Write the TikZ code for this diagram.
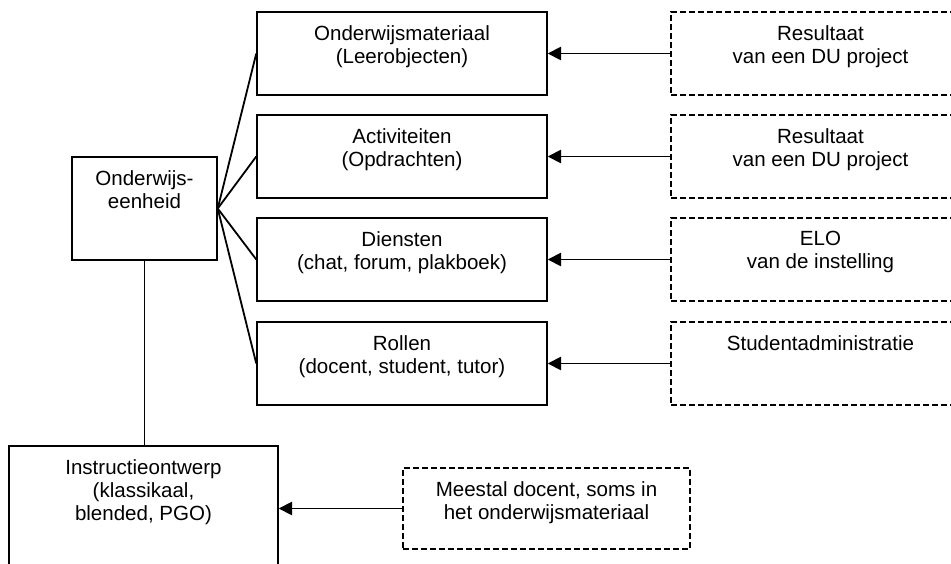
\documentclass[tikz,border=0pt]{standalone}
\usepackage{fontspec}
\setmainfont{Liberation Sans}
\usetikzlibrary{arrows.meta}
\begin{document}
\begin{tikzpicture}[x=0.75pt,y=-0.75pt,
  line width=1.1pt,
  sizebox/.style 2 args={rectangle, draw, inner sep=0pt,
    minimum width={#1*0.75pt}, minimum height={#2*0.75pt}},
  dashbox/.style 2 args={sizebox={#1}{#2}, dash pattern=on 4.5pt off 2.25pt},
  txt/.style={font=\fontsize{15.4}{17.25}\selectfont, align=center,
    inner sep=0pt, anchor=north},
  link/.style={draw, line width=1.35pt},
  feed/.style={draw, line width=1.35pt, -{Triangle[length=10pt,width=10pt]}}]

\useasboundingbox (0,0) rectangle (951,564);
\clip (0,0) rectangle (951,564);

% main unit
\node[sizebox={145}{103}] (oe) at (144.5,208.5) {};
\node[txt] (oe-t) at ([yshift=-10.1pt]oe.north) {Onderwijs-\\eenheid};

% components
\node[sizebox={290}{83}] (b1) at (402,53.5) {};
\node[sizebox={290}{83}] (b2) at (402,156.5) {};
\node[sizebox={290}{83}] (b3) at (402,259.5) {};
\node[sizebox={290}{83}] (b4) at (402,363.5) {};
\node[txt] (b1-t) at ([yshift=-10.1pt]b1.north) {Onderwijsmateriaal\\(Leerobjecten)};
\node[txt] (b2-t) at ([yshift=-10.1pt]b2.north) {Activiteiten\\(Opdrachten)};
\node[txt] (b3-t) at ([yshift=-10.1pt]b3.north) {Diensten\\(chat, forum, plakboek)};
\node[txt] (b4-t) at ([yshift=-10.1pt]b4.north) {Rollen\\(docent, student, tutor)};

% sources
\node[dashbox={299}{83}] (d1) at (820.5,53.5) {};
\node[dashbox={299}{83}] (d2) at (820.5,156.5) {};
\node[dashbox={299}{83}] (d3) at (820.5,259.5) {};
\node[dashbox={299}{83}] (d4) at (820.5,363.5) {};
\node[txt] (d1-t) at ([yshift=-10.1pt]d1.north) {Resultaat\\van een DU project};
\node[txt] (d2-t) at ([yshift=-10.1pt]d2.north) {Resultaat\\van een DU project};
\node[txt] (d3-t) at ([yshift=-10.1pt]d3.north) {ELO\\van de instelling};
\node[txt] (d4-t) at ([yshift=-10.1pt]d4.north) {Studentadministratie};

% instructional design
\node[sizebox={269}{174}] (ins) at (143.5,533) {};
\node[txt] (ins-t) at ([yshift=-10.1pt]ins.north) {Instructieontwerp\\(klassikaal,\\blended, PGO)};
\node[dashbox={287}{81}] (me) at (546.5,508.5) {};
\node[txt] (me-t) at ([yshift=-10.1pt]me.north) {Meestal docent, soms in\\het onderwijsmateriaal};

% connectors
\foreach \b in {b1,b2,b3,b4}
  \path[link] (oe.east) -- (\b.west);
\path[link] (oe.south) -- (oe.south |- ins.north);
\foreach \i in {1,2,3,4}
  \path[feed] (d\i.west) -- (b\i.east);
\path[feed] (me.west) -- (me.west -| ins.east);
\end{tikzpicture}
\end{document}
